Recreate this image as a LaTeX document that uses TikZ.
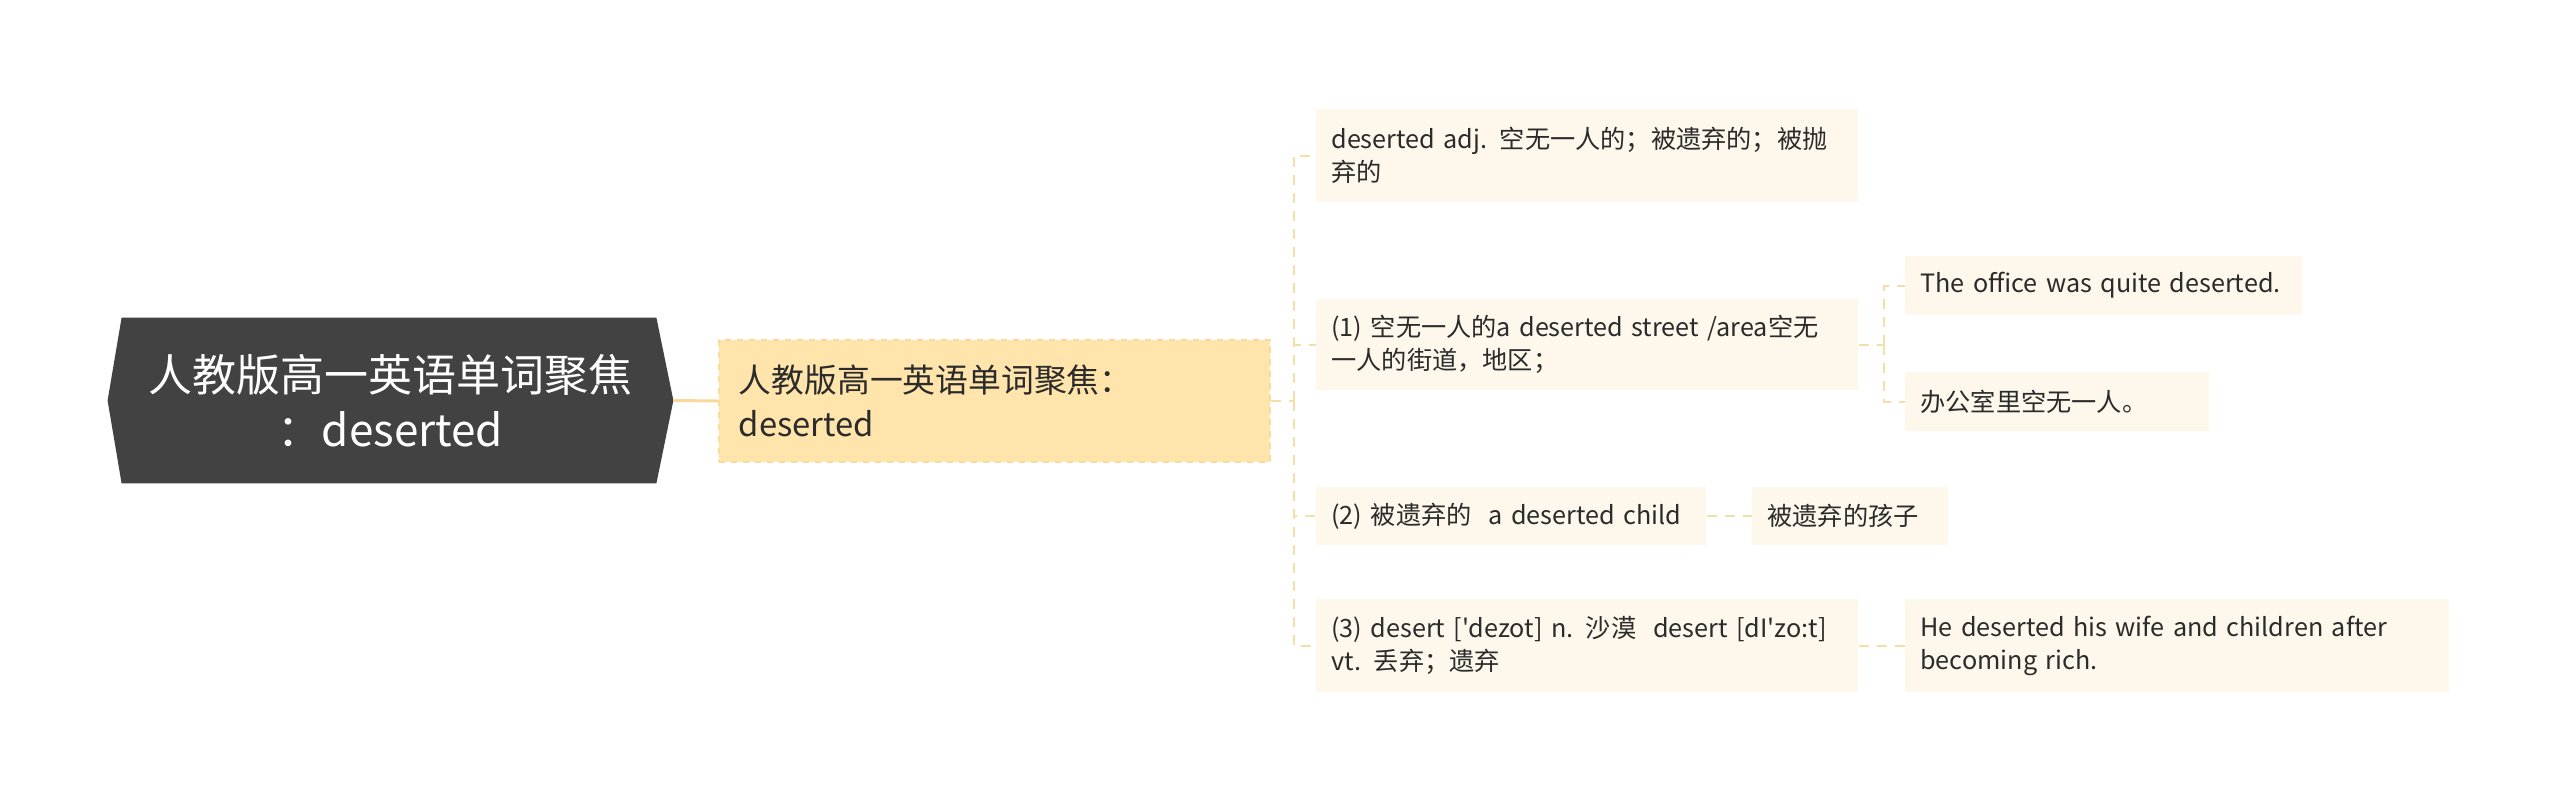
\documentclass[tikz,border=0pt]{standalone}
\usepackage{fontspec}
\newfontfamily\yahei{Noto Sans CJK SC}
\usetikzlibrary{backgrounds}
\definecolor{rootgray}{HTML}{424242}
\definecolor{topicfill}{HTML}{FFE5AB}
\definecolor{topicline}{HTML}{F8DC9C}
\definecolor{leaffill}{HTML}{FDF8EB}
\definecolor{linkcol}{HTML}{F4DFA6}
\definecolor{rootlink}{HTML}{F8D999}
\definecolor{leaftext}{HTML}{2B2B2B}

\begin{document}
\begin{tikzpicture}[x=0.5pt, y=-0.5pt,
  leaf/.style={rectangle, fill=leaffill, text=leaftext, anchor=west, align=left,
    inner xsep=7.5pt, inner ysep=0pt, font=\yahei\fontsize{12.6}{16.5}\selectfont},
  link/.style={draw=linkcol, line width=1pt, dash pattern=on 5pt off 4pt}]
\useasboundingbox (0,0) rectangle (2560,804);

\node[rectangle, minimum width=282.5pt, minimum height=82.5pt, text=white, align=center,
  font=\yahei\fontsize{22}{27.5}\selectfont] (root) at (390.5,400.5) {人教版高一英语单词聚焦\\：deserted};
\begin{scope}[on background layer]
\fill[rootgray] (root.west) -- ([xshift=7pt]root.north west) -- ([xshift=-8.5pt]root.north east)
  -- (root.east) -- ([xshift=-8.5pt]root.south east) -- ([xshift=7pt]root.south west) -- cycle;
\end{scope}

\node[rectangle, fill=topicfill, draw=topicline, line width=0.8pt, dashed, text=leaftext, anchor=west,
  align=left, text width=255.5pt, minimum height=61pt, inner xsep=10pt,
  font=\yahei\fontsize{16.4}{22}\selectfont] (topic) at (718,401) {人教版高一英语单词聚焦：\\deserted};

\node[leaf, text width=256pt, minimum height=46.5pt] (def) at (1316,155.5) {deserted adj. 空无一人的；被遗弃的；被抛\\弃的};
\node[leaf, text width=256pt, minimum height=45.5pt] (ex1) at (1316,344.5) {(1) 空无一人的a deserted street /area空无\\一人的街道，地区；};
\node[leaf, text width=180pt, minimum height=29pt] (ex2) at (1316,516) {(2) 被遗弃的 \ a deserted child};
\node[leaf, text width=256pt, minimum height=46.5pt] (ex3) at (1316,645.5) {(3) desert ['dezot] n. 沙漠 \ desert [dI'zo:t]\\vt. 丢弃；遗弃};

\node[leaf, text width=183.5pt, minimum height=29.5pt] (s1) at (1905,285.5) {The office was quite deserted.};
\node[leaf, text width=137pt, minimum height=29.5pt] (cn1) at (1905,401.5) {办公室里空无一人。};
\node[leaf, text width=83pt, minimum height=29pt] (cn2) at (1752,516) {被遗弃的孩子};
\node[leaf, text width=257pt, minimum height=46.5pt] (s3) at (1905,645.5) {He deserted his wife and children after\\becoming rich.};

\coordinate (spine) at ([xshift=11.5pt]topic.east);
\coordinate (fork) at ([xshift=12.5pt]ex1.east);

\draw[rootlink, line width=1.5pt] (root.east) -- (topic.west);
\draw[link] (topic.east) -- (spine);
\foreach \n in {def,ex1,ex2,ex3}
  \draw[link] (spine) |- (\n.west);
\draw[link] (ex1.east) -- (fork);
\draw[link] (fork) |- (s1.west);
\draw[link] (fork) |- (cn1.west);
\draw[link] (ex2.east) -- (cn2.west);
\draw[link] (ex3.east) -- (s3.west);
\end{tikzpicture}
\end{document}
